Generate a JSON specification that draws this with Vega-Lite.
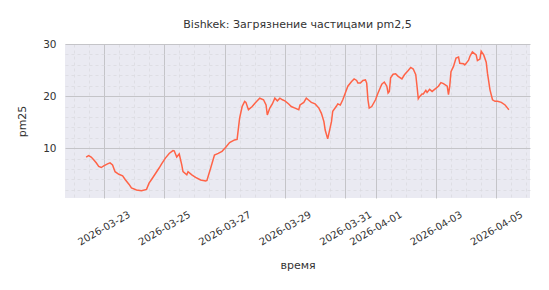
{
  "$schema": "https://vega.github.io/schema/vega-lite/v6.json",
  "width": 465,
  "height": 154,
  "autosize": {"type": "none"},
  "padding": {"left": 65, "top": 44, "right": 19, "bottom": 92},
  "background": "white",
  "title": {"text": "Bishkek: Загрязнение частицами pm2,5", "fontSize": 11, "font": "DejaVu Sans", "fontWeight": "normal", "color": "#333333", "offset": 9, "anchor": "middle"},
  "config": {"view": {"fill": "#EAEAF2", "stroke": null}, "font": "DejaVu Sans"},
  "resolve": {"axis": {"x": "independent", "y": "independent"}},
  "data": {"values": [
    {"time": "2026-03-22T10:00", "pm25": 8.3},
    {"time": "2026-03-22T12:00", "pm25": 8.6},
    {"time": "2026-03-22T14:00", "pm25": 8.3},
    {"time": "2026-03-22T16:00", "pm25": 7.8},
    {"time": "2026-03-22T18:00", "pm25": 7.2},
    {"time": "2026-03-22T20:00", "pm25": 6.5},
    {"time": "2026-03-22T22:00", "pm25": 6.3},
    {"time": "2026-03-23T00:00", "pm25": 6.6},
    {"time": "2026-03-23T03:00", "pm25": 7.0},
    {"time": "2026-03-23T05:00", "pm25": 7.2},
    {"time": "2026-03-23T07:00", "pm25": 6.8},
    {"time": "2026-03-23T09:00", "pm25": 5.5},
    {"time": "2026-03-23T12:00", "pm25": 5.0},
    {"time": "2026-03-23T15:00", "pm25": 4.7},
    {"time": "2026-03-23T17:00", "pm25": 4.0},
    {"time": "2026-03-23T20:00", "pm25": 3.1},
    {"time": "2026-03-23T22:00", "pm25": 2.4},
    {"time": "2026-03-24T02:00", "pm25": 2.0},
    {"time": "2026-03-24T06:00", "pm25": 1.85},
    {"time": "2026-03-24T10:00", "pm25": 2.1},
    {"time": "2026-03-24T12:00", "pm25": 3.3},
    {"time": "2026-03-24T14:00", "pm25": 4.0},
    {"time": "2026-03-24T17:00", "pm25": 5.1},
    {"time": "2026-03-24T20:00", "pm25": 6.2},
    {"time": "2026-03-24T22:00", "pm25": 7.0},
    {"time": "2026-03-25T01:00", "pm25": 8.1},
    {"time": "2026-03-25T04:00", "pm25": 9.0},
    {"time": "2026-03-25T07:00", "pm25": 9.55},
    {"time": "2026-03-25T08:00", "pm25": 9.5},
    {"time": "2026-03-25T10:00", "pm25": 8.3},
    {"time": "2026-03-25T12:00", "pm25": 8.9},
    {"time": "2026-03-25T14:00", "pm25": 6.8},
    {"time": "2026-03-25T15:00", "pm25": 5.5},
    {"time": "2026-03-25T18:00", "pm25": 4.9},
    {"time": "2026-03-25T19:00", "pm25": 5.5},
    {"time": "2026-03-25T22:00", "pm25": 4.9},
    {"time": "2026-03-26T01:00", "pm25": 4.4},
    {"time": "2026-03-26T05:00", "pm25": 3.9},
    {"time": "2026-03-26T09:00", "pm25": 3.7},
    {"time": "2026-03-26T10:00", "pm25": 3.8},
    {"time": "2026-03-26T13:00", "pm25": 6.2},
    {"time": "2026-03-26T16:00", "pm25": 8.7},
    {"time": "2026-03-26T19:00", "pm25": 9.0},
    {"time": "2026-03-26T22:00", "pm25": 9.4},
    {"time": "2026-03-27T01:00", "pm25": 10.2},
    {"time": "2026-03-27T04:00", "pm25": 11.1},
    {"time": "2026-03-27T08:00", "pm25": 11.6},
    {"time": "2026-03-27T10:00", "pm25": 11.7},
    {"time": "2026-03-27T12:00", "pm25": 15.8},
    {"time": "2026-03-27T14:00", "pm25": 18.0},
    {"time": "2026-03-27T16:00", "pm25": 19.0},
    {"time": "2026-03-27T17:00", "pm25": 18.8},
    {"time": "2026-03-27T19:00", "pm25": 17.4},
    {"time": "2026-03-27T22:00", "pm25": 18.0},
    {"time": "2026-03-28T00:00", "pm25": 18.6},
    {"time": "2026-03-28T02:00", "pm25": 19.1},
    {"time": "2026-03-28T04:00", "pm25": 19.6},
    {"time": "2026-03-28T07:00", "pm25": 19.3},
    {"time": "2026-03-28T09:00", "pm25": 18.3},
    {"time": "2026-03-28T10:00", "pm25": 16.4},
    {"time": "2026-03-28T12:00", "pm25": 17.7},
    {"time": "2026-03-28T14:00", "pm25": 18.5},
    {"time": "2026-03-28T16:00", "pm25": 19.6},
    {"time": "2026-03-28T18:00", "pm25": 19.1},
    {"time": "2026-03-28T20:00", "pm25": 19.6},
    {"time": "2026-03-28T22:00", "pm25": 19.3},
    {"time": "2026-03-29T00:00", "pm25": 19.1},
    {"time": "2026-03-29T03:00", "pm25": 18.5},
    {"time": "2026-03-29T05:00", "pm25": 18.0},
    {"time": "2026-03-29T08:00", "pm25": 17.7},
    {"time": "2026-03-29T11:00", "pm25": 17.4},
    {"time": "2026-03-29T12:00", "pm25": 18.3},
    {"time": "2026-03-29T15:00", "pm25": 18.8},
    {"time": "2026-03-29T17:00", "pm25": 19.6},
    {"time": "2026-03-29T19:00", "pm25": 19.2},
    {"time": "2026-03-29T21:00", "pm25": 18.8},
    {"time": "2026-03-30T00:00", "pm25": 18.5},
    {"time": "2026-03-30T03:00", "pm25": 17.7},
    {"time": "2026-03-30T05:00", "pm25": 16.7},
    {"time": "2026-03-30T07:00", "pm25": 15.1},
    {"time": "2026-03-30T08:00", "pm25": 13.5},
    {"time": "2026-03-30T10:00", "pm25": 11.8},
    {"time": "2026-03-30T11:00", "pm25": 12.9},
    {"time": "2026-03-30T13:00", "pm25": 15.1},
    {"time": "2026-03-30T14:00", "pm25": 17.1},
    {"time": "2026-03-30T17:00", "pm25": 18.1},
    {"time": "2026-03-30T18:00", "pm25": 18.5},
    {"time": "2026-03-30T20:00", "pm25": 18.3},
    {"time": "2026-03-30T22:00", "pm25": 19.3},
    {"time": "2026-03-31T00:00", "pm25": 20.6},
    {"time": "2026-03-31T02:00", "pm25": 21.9},
    {"time": "2026-03-31T05:00", "pm25": 22.8},
    {"time": "2026-03-31T07:00", "pm25": 23.3},
    {"time": "2026-03-31T09:00", "pm25": 23.0},
    {"time": "2026-03-31T10:00", "pm25": 22.5},
    {"time": "2026-03-31T12:00", "pm25": 22.5},
    {"time": "2026-03-31T14:00", "pm25": 23.0},
    {"time": "2026-03-31T16:00", "pm25": 23.1},
    {"time": "2026-03-31T17:00", "pm25": 22.5},
    {"time": "2026-03-31T18:00", "pm25": 19.3},
    {"time": "2026-03-31T19:00", "pm25": 17.7},
    {"time": "2026-03-31T21:00", "pm25": 18.0},
    {"time": "2026-04-01T00:00", "pm25": 19.3},
    {"time": "2026-04-01T02:00", "pm25": 20.6},
    {"time": "2026-04-01T05:00", "pm25": 22.3},
    {"time": "2026-04-01T07:00", "pm25": 22.7},
    {"time": "2026-04-01T09:00", "pm25": 21.9},
    {"time": "2026-04-01T10:00", "pm25": 20.6},
    {"time": "2026-04-01T11:00", "pm25": 20.9},
    {"time": "2026-04-01T12:00", "pm25": 23.5},
    {"time": "2026-04-01T14:00", "pm25": 24.2},
    {"time": "2026-04-01T16:00", "pm25": 24.3},
    {"time": "2026-04-01T18:00", "pm25": 23.8},
    {"time": "2026-04-01T21:00", "pm25": 23.3},
    {"time": "2026-04-01T23:00", "pm25": 24.1},
    {"time": "2026-04-02T02:00", "pm25": 24.9},
    {"time": "2026-04-02T04:00", "pm25": 25.5},
    {"time": "2026-04-02T06:00", "pm25": 25.2},
    {"time": "2026-04-02T08:00", "pm25": 24.1},
    {"time": "2026-04-02T09:00", "pm25": 21.9},
    {"time": "2026-04-02T10:00", "pm25": 19.5},
    {"time": "2026-04-02T11:00", "pm25": 19.9},
    {"time": "2026-04-02T13:00", "pm25": 20.4},
    {"time": "2026-04-02T14:00", "pm25": 20.4},
    {"time": "2026-04-02T16:00", "pm25": 21.1},
    {"time": "2026-04-02T17:00", "pm25": 20.7},
    {"time": "2026-04-02T19:00", "pm25": 21.3},
    {"time": "2026-04-02T21:00", "pm25": 20.9},
    {"time": "2026-04-02T23:00", "pm25": 21.3},
    {"time": "2026-04-03T02:00", "pm25": 21.9},
    {"time": "2026-04-03T04:00", "pm25": 22.6},
    {"time": "2026-04-03T06:00", "pm25": 22.4},
    {"time": "2026-04-03T09:00", "pm25": 21.9},
    {"time": "2026-04-03T10:00", "pm25": 20.3},
    {"time": "2026-04-03T11:00", "pm25": 21.9},
    {"time": "2026-04-03T12:00", "pm25": 24.7},
    {"time": "2026-04-03T14:00", "pm25": 25.7},
    {"time": "2026-04-03T16:00", "pm25": 27.3},
    {"time": "2026-04-03T18:00", "pm25": 27.5},
    {"time": "2026-04-03T19:00", "pm25": 26.3},
    {"time": "2026-04-03T22:00", "pm25": 26.2},
    {"time": "2026-04-03T23:00", "pm25": 26.0},
    {"time": "2026-04-04T02:00", "pm25": 26.9},
    {"time": "2026-04-04T03:00", "pm25": 27.6},
    {"time": "2026-04-04T05:00", "pm25": 28.5},
    {"time": "2026-04-04T08:00", "pm25": 27.9},
    {"time": "2026-04-04T09:00", "pm25": 26.8},
    {"time": "2026-04-04T11:00", "pm25": 27.1},
    {"time": "2026-04-04T12:00", "pm25": 28.6},
    {"time": "2026-04-04T14:00", "pm25": 27.9},
    {"time": "2026-04-04T16:00", "pm25": 26.5},
    {"time": "2026-04-04T17:00", "pm25": 24.4},
    {"time": "2026-04-04T19:00", "pm25": 21.2},
    {"time": "2026-04-04T21:00", "pm25": 19.3},
    {"time": "2026-04-04T23:00", "pm25": 19.0},
    {"time": "2026-04-05T01:00", "pm25": 19.0},
    {"time": "2026-04-05T04:00", "pm25": 18.8},
    {"time": "2026-04-05T07:00", "pm25": 18.3},
    {"time": "2026-04-05T09:00", "pm25": 17.7},
    {"time": "2026-04-05T10:00", "pm25": 17.4}
  ]},
  "layer": [
    {
      "mark": {"type": "line", "opacity": 0},
      "encoding": {
        "x": {"field": "time", "type": "temporal",
          "scale": {"domain": [{"year": 2026, "month": 3, "date": 21, "hours": 17, "minutes": 12}, {"year": 2026, "month": 4, "date": 6, "hours": 2, "minutes": 48}], "nice": false},
          "axis": {"orient": "bottom", "grid": true, "gridDash": [3, 3], "gridColor": "#dadae0", "gridWidth": 0.8, "labels": false, "ticks": false, "domain": false, "title": null,
            "values": [
              {"year": 2026, "month": 3, "date": 22, "hours": 0}, {"year": 2026, "month": 3, "date": 22, "hours": 12},
              {"year": 2026, "month": 3, "date": 23, "hours": 12},
              {"year": 2026, "month": 3, "date": 24, "hours": 0}, {"year": 2026, "month": 3, "date": 24, "hours": 12},
              {"year": 2026, "month": 3, "date": 25, "hours": 12},
              {"year": 2026, "month": 3, "date": 26, "hours": 0}, {"year": 2026, "month": 3, "date": 26, "hours": 12},
              {"year": 2026, "month": 3, "date": 27, "hours": 12},
              {"year": 2026, "month": 3, "date": 28, "hours": 0}, {"year": 2026, "month": 3, "date": 28, "hours": 12},
              {"year": 2026, "month": 3, "date": 29, "hours": 12},
              {"year": 2026, "month": 3, "date": 30, "hours": 0}, {"year": 2026, "month": 3, "date": 30, "hours": 12},
              {"year": 2026, "month": 3, "date": 31, "hours": 12},
              {"year": 2026, "month": 4, "date": 1, "hours": 12},
              {"year": 2026, "month": 4, "date": 2, "hours": 0}, {"year": 2026, "month": 4, "date": 2, "hours": 12},
              {"year": 2026, "month": 4, "date": 3, "hours": 12},
              {"year": 2026, "month": 4, "date": 4, "hours": 0}, {"year": 2026, "month": 4, "date": 4, "hours": 12},
              {"year": 2026, "month": 4, "date": 5, "hours": 12},
              {"year": 2026, "month": 4, "date": 6, "hours": 0}
            ]}},
        "y": {"field": "pm25", "type": "quantitative",
          "scale": {"domain": [0.45, 30], "nice": false, "zero": false},
          "axis": {"orient": "left", "grid": true, "gridDash": [3, 3], "gridColor": "#dadae0", "gridWidth": 0.8, "labels": false, "ticks": false, "domain": false, "title": null, "values": [2, 4, 6, 8, 12, 14, 16, 18, 22, 24, 26, 28]}}
      }
    },
    {
      "mark": {"type": "line", "color": "#FF6347", "strokeWidth": 1.5},
      "encoding": {
        "x": {"field": "time", "type": "temporal",
          "scale": {"domain": [{"year": 2026, "month": 3, "date": 21, "hours": 17, "minutes": 12}, {"year": 2026, "month": 4, "date": 6, "hours": 2, "minutes": 48}], "nice": false},
          "axis": {"orient": "bottom", "grid": true, "gridColor": "#c4c4c8", "gridWidth": 1, "domain": false, "ticks": false,
            "values": [{"year": 2026, "month": 3, "date": 23}, {"year": 2026, "month": 3, "date": 25}, {"year": 2026, "month": 3, "date": 27}, {"year": 2026, "month": 3, "date": 29}, {"year": 2026, "month": 3, "date": 31}, {"year": 2026, "month": 4, "date": 1}, {"year": 2026, "month": 4, "date": 3}, {"year": 2026, "month": 4, "date": 5}],
            "format": "%Y-%m-%d", "labelAngle": -30, "labelAlign": "center", "labelBaseline": "middle", "labelPadding": 30, "labelFontSize": 10, "labelColor": "#333333", "labelOverlap": false,
            "title": "время", "titleFontSize": 11, "titleFontWeight": "normal", "titleColor": "#333333", "titlePadding": 13}},
        "y": {"field": "pm25", "type": "quantitative",
          "scale": {"domain": [0.45, 30], "nice": false, "zero": false},
          "axis": {"orient": "left", "grid": true, "gridColor": "#c4c4c8", "gridWidth": 1, "domain": false, "ticks": false, "values": [10, 20, 30],
            "labelPadding": 9, "labelFontSize": 10.5, "labelColor": "#333333",
            "title": "pm25", "titleFontSize": 11, "titleFontWeight": "normal", "titleColor": "#333333", "titlePadding": 15}}
      }
    }
  ]
}
